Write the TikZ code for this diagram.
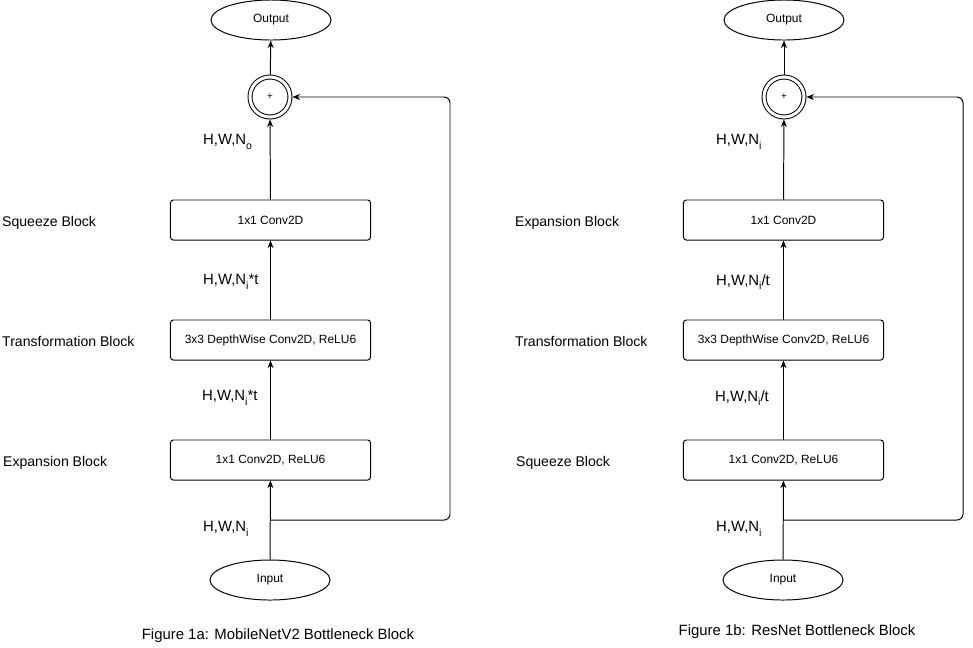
\documentclass[tikz,border=0pt]{standalone}
\usepackage{fontspec}
\setmainfont{Liberation Sans}
\usetikzlibrary{arrows.meta, shapes.geometric}

\tikzset{
  blk/.style={draw, rounded corners=2pt, minimum width=5cm, minimum height=1cm,
    font=\fontsize{8.5}{10}\selectfont},
  term/.style={draw, ellipse, minimum width=3cm, minimum height=1cm,
    font=\fontsize{8.5}{10}\selectfont},
  sumnode/.style={draw, circle, double, double distance=0.075cm, minimum size=1cm,
    outer sep=0.06cm, font=\fontsize{7}{8}\selectfont},
  lbl/.style={anchor=west, font=\fontsize{10}{12}\selectfont},
  dims/.style={anchor=west, font=\fontsize{10.6}{12}\selectfont},
  figcap/.style={font=\fontsize{10.6}{12}\selectfont},
  arr/.style={-{Stealth[length=1.9mm, width=1.5mm]}},
}
\newcommand{\lowsub}[1]{\raisebox{-0.55ex}{\fontsize{7.5}{8}\selectfont #1}}

\begin{document}
\begin{tikzpicture}[x=0.025cm, y=-0.025cm, line width=0.7pt]
  \useasboundingbox (0,0) rectangle (973,647);

  % FIGURE 1a
  \node[term] (outA) at (271, 20) {Output};
  \node[sumnode] (sumA) at (270, 97) {+};
  \node[blk] (sqA) at (270.5, 220) {1x1 Conv2D};
  \node[blk] (trA) at (270.5, 340) {3x3 DepthWise Conv2D, ReLU6};
  \node[blk] (exA) at (270.5, 460) {1x1 Conv2D, ReLU6};
  \node[term] (inA) at (270, 580) {Input};

  % Block labels
  \node[lbl] (lsqA) at (-3, 223) {Squeeze Block};
  \node[lbl] (ltrA) at (-3, 341) {Transformation Block};
  \node[lbl] (lexA) at (-2, 463) {Expansion Block};

  % Tensor shapes
  \node[dims] (dA1) at (198, 142) {H,W,N\lowsub{o}};
  \node[dims] (dA2) at (198, 282) {H,W,N\lowsub{i}*t};
  \node[dims] (dA3) at (197, 398) {H,W,N\lowsub{i}*t};
  \node[dims] (dA4) at (198, 529) {H,W,N\lowsub{i}};

  % Connectors
  \draw[arr] (inA) -- (exA);
  \draw[arr] (exA) -- (trA);
  \draw[arr] (trA) -- (sqA);
  \draw[arr] (sqA) -- (sumA);
  \draw[arr] (sumA) -- (outA);
  % Skip connection
  \coordinate (splitA) at (270, 520);
  \coordinate (skipA1) at (450, 520);
  \coordinate (skipA2) at (450, 97);
  \draw[arr, rounded corners=0.15cm] (splitA) -- (skipA1) -- (skipA2) -- (sumA);

  \node[figcap] (capA) at (278, 636) {Figure 1a: MobileNetV2 Bottleneck Block};

  % FIGURE 1b
  \node[term] (outB) at (784, 20) {Output};
  \node[sumnode] (sumB) at (784, 97) {+};
  \node[blk] (exB) at (783.5, 220) {1x1 Conv2D};
  \node[blk] (trB) at (783.5, 340) {3x3 DepthWise Conv2D, ReLU6};
  \node[blk] (sqB) at (783.5, 460) {1x1 Conv2D, ReLU6};
  \node[term] (inB) at (783, 580) {Input};

  % Block labels
  \node[lbl] (lexB) at (510, 223) {Expansion Block};
  \node[lbl] (ltrB) at (510, 341) {Transformation Block};
  \node[lbl] (lsqB) at (511, 463) {Squeeze Block};

  % Tensor shapes
  \node[dims] (dB1) at (711, 142) {H,W,N\lowsub{i}};
  \node[dims] (dB2) at (711, 282) {H,W,N\lowsub{i}/t};
  \node[dims] (dB3) at (710, 398) {H,W,N\lowsub{i}/t};
  \node[dims] (dB4) at (711, 529) {H,W,N\lowsub{i}};

  % Connectors
  \draw[arr] (inB) -- (sqB);
  \draw[arr] (sqB) -- (trB);
  \draw[arr] (trB) -- (exB);
  \draw[arr] (exB) -- (sumB);
  \draw[arr] (sumB) -- (outB);
  % Skip connection
  \coordinate (splitB) at (783, 520);
  \coordinate (skipB1) at (963, 520);
  \coordinate (skipB2) at (963, 97);
  \draw[arr, rounded corners=0.15cm] (splitB) -- (skipB1) -- (skipB2) -- (sumB);

  \node[figcap] (capB) at (797, 632) {Figure 1b: ResNet Bottleneck Block};
\end{tikzpicture}
\end{document}
